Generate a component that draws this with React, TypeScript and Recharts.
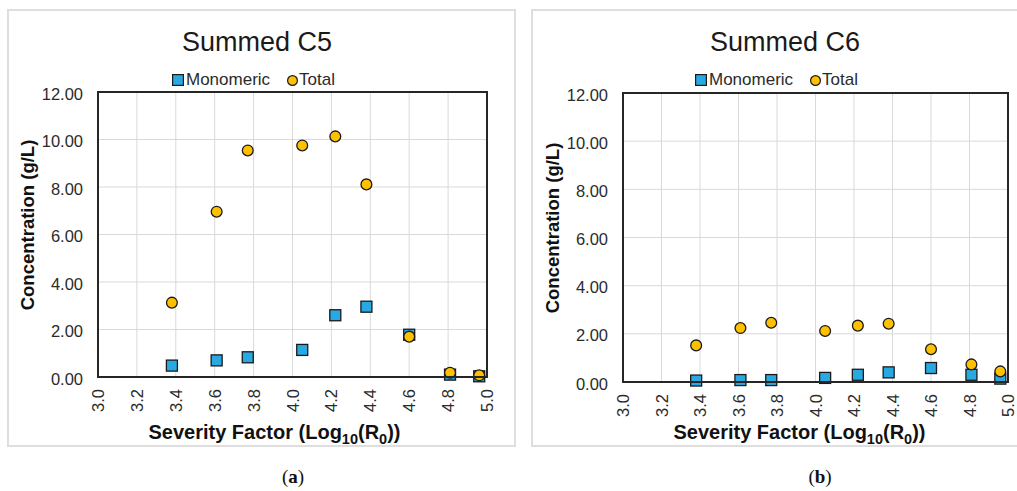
import React from "react";
import {
  ScatterChart,
  Scatter,
  XAxis,
  YAxis,
  CartesianGrid,
  Legend,
  Label,
} from "recharts";

// Severity factor of each pretreatment run
const severity = [3.38, 3.61, 3.77, 4.05, 4.22, 4.38, 4.6, 4.81, 4.96];

// Summed C5 sugars (g/L)
const c5Monomeric = [0.48, 0.7, 0.83, 1.14, 2.6, 2.96, 1.78, 0.1, 0.03];
const c5Total = [3.13, 6.96, 9.54, 9.75, 10.13, 8.11, 1.7, 0.18, 0.07];

// Summed C6 sugars (g/L)
const c6Monomeric = [0.06, 0.08, 0.08, 0.17, 0.3, 0.4, 0.58, 0.3, 0.14];
const c6Total = [1.52, 2.24, 2.46, 2.12, 2.34, 2.42, 1.36, 0.73, 0.44];

const xTicks = [3.0, 3.2, 3.4, 3.6, 3.8, 4.0, 4.2, 4.4, 4.6, 4.8, 5.0];
const yTicks = [0, 2, 4, 6, 8, 10, 12];
const seriesNames = ["Monomeric", "Total"];

const FONT = '"Liberation Sans", Arial, sans-serif';
const BLUE = "#29a9e1";
const GOLD = "#ffc000";
const EDGE = "#1a1a1a";

const CHART_H = 438;
const Y_AXIS_W = 60;
const X_AXIS_H = 50;

const toPoints = (ys: number[]) => severity.map((x, i) => ({ x, y: ys[i] }));

const SquareDot = (props: any) => (
  <rect
    x={props.cx - 5.5}
    y={props.cy - 5.5}
    width={11}
    height={11}
    fill={BLUE}
    stroke={EDGE}
    strokeWidth={1.3}
  />
);

const CircleDot = (props: any) => (
  <circle cx={props.cx} cy={props.cy} r={5.4} fill={GOLD} stroke={EDGE} strokeWidth={1.3} />
);

const XTick = ({ x, y, payload }: any) => (
  <text
    transform={`translate(${x},${y + 12}) rotate(-90)`}
    textAnchor="end"
    dominantBaseline="central"
    fontFamily={FONT}
    fontSize={16.5}
    fill="#2b2b2b"
  >
    {Number(payload.value).toFixed(1)}
  </text>
);

const YTick = ({ x, y, payload }: any) => (
  <text
    x={x}
    y={y + 1.5}
    textAnchor="end"
    dominantBaseline="central"
    fontFamily={FONT}
    fontSize={16.5}
    fill="#2b2b2b"
  >
    {Number(payload.value).toFixed(2)}
  </text>
);

const LegendContent = () => (
  <div
    style={{
      display: "flex",
      alignItems: "center",
      fontFamily: FONT,
      fontSize: 17,
      color: "#2b2b2b",
      whiteSpace: "nowrap",
      lineHeight: "20px",
    }}
  >
    <svg width={12} height={12} style={{ marginRight: 2 }}>
      <rect x={0.6} y={0.6} width={10.8} height={10.8} fill={BLUE} stroke={EDGE} strokeWidth={1.2} />
    </svg>
    <span>{seriesNames[0]}</span>
    <svg width={11} height={11} style={{ marginLeft: 17, marginRight: 1 }}>
      <circle cx={5.5} cy={5.5} r={4.9} fill={GOLD} stroke={EDGE} strokeWidth={1.2} />
    </svg>
    <span>{seriesNames[1]}</span>
  </div>
);

type PanelProps = {
  title: string;
  tag: string;
  monomeric: number[];
  total: number[];
  left: number;
  width: number;
  margin: { top: number; right: number; bottom: number; left: number };
  titleX: number;
  legendX: number;
  xTitleShift: number;
  xTitleDrop: number;
  tagX: number;
};

function Panel(p: PanelProps) {
  // plot-area box, from the margins and axis sizes handed to the chart
  const plotLeft = p.margin.left + Y_AXIS_W;
  const plotTop = p.margin.top;
  const plotW = p.width - plotLeft - p.margin.right;
  const plotH = CHART_H - plotTop - p.margin.bottom - X_AXIS_H;

  return (
    <>
      <div
        style={{
          position: "absolute",
          left: p.left,
          top: 9,
          width: p.width + 20,
          height: CHART_H,
          boxSizing: "border-box",
          border: "2px solid #dedede",
        }}
      />
      <div
        style={{
          position: "absolute",
          left: p.left + p.titleX - 150,
          top: 29,
          width: 300,
          textAlign: "center",
          fontFamily: FONT,
          fontSize: 27,
          lineHeight: "27px",
          color: "#1a1a1a",
        }}
      >
        {p.title}
      </div>
      <div style={{ position: "absolute", left: p.left, top: 9 }}>
        <ScatterChart width={p.width} height={CHART_H} margin={p.margin}>
          <CartesianGrid stroke="#d9d9d9" strokeWidth={1} />
          <XAxis
            type="number"
            dataKey="x"
            domain={[3, 5]}
            ticks={xTicks}
            interval={0}
            axisLine={false}
            tickLine={false}
            tickSize={0}
            tickMargin={0}
            tick={<XTick />}
            height={X_AXIS_H}
          >
            <Label
              content={({ viewBox }: any) => {
                const cx = viewBox.x + viewBox.width / 2 + p.xTitleShift;
                const by = viewBox.y + p.xTitleDrop;
                return (
                  <text
                    x={cx}
                    y={by}
                    textAnchor="middle"
                    fontFamily={FONT}
                    fontWeight="bold"
                    fontSize={20}
                    fill="#111"
                  >
                    Severity Factor (Log
                    <tspan fontSize={14.5} dy={5}>
                      10
                    </tspan>
                    <tspan dy={-5}>(R</tspan>
                    <tspan fontSize={14.5} dy={5}>
                      0
                    </tspan>
                    <tspan dy={-5}>))</tspan>
                  </text>
                );
              }}
            />
          </XAxis>
          <YAxis
            type="number"
            dataKey="y"
            domain={[0, 12]}
            ticks={yTicks}
            interval={0}
            axisLine={false}
            tickLine={false}
            tickSize={0}
            tickMargin={15}
            tick={<YTick />}
            width={Y_AXIS_W}
          >
            <Label
              content={({ viewBox }: any) => {
                const cx = viewBox.x + viewBox.width - 71;
                const cy = viewBox.y + viewBox.height / 2 - 9.5;
                return (
                  <text
                    transform={`translate(${cx},${cy}) rotate(-90)`}
                    textAnchor="middle"
                    dominantBaseline="central"
                    fontFamily={FONT}
                    fontWeight="bold"
                    fontSize={18.5}
                    fill="#111"
                  >
                    Concentration (g/L)
                  </text>
                );
              }}
            />
          </YAxis>
          <Legend
            layout="horizontal"
            align="center"
            verticalAlign="middle"
            content={<LegendContent />}
            wrapperStyle={{ top: 61, left: p.legendX, width: "auto" }}
          />
          <Scatter
            name={seriesNames[0]}
            data={toPoints(p.monomeric)}
            shape={SquareDot}
            isAnimationActive={false}
          />
          <Scatter
            name={seriesNames[1]}
            data={toPoints(p.total)}
            shape={CircleDot}
            isAnimationActive={false}
          />
        </ScatterChart>
      </div>
      {/* dark frame round the plot area */}
      <div
        style={{
          position: "absolute",
          left: p.left + plotLeft - 1,
          top: 9 + plotTop - 1,
          width: plotW + 2,
          height: plotH + 2,
          boxSizing: "border-box",
          border: "2px solid #262626",
          pointerEvents: "none",
        }}
      />
      <div
        style={{
          position: "absolute",
          left: p.tagX - 50,
          top: 466,
          width: 100,
          textAlign: "center",
          fontFamily: '"Liberation Serif", "DejaVu Serif", serif',
          fontSize: 19,
          lineHeight: "22px",
          color: "#111",
        }}
      >
        (<b>{p.tag}</b>)
      </div>
    </>
  );
}

export default function App() {
  return (
    <div
      style={{
        position: "absolute",
        left: 0,
        top: 0,
        width: 1017,
        height: 491,
        overflow: "hidden",
        background: "#fff",
      }}
    >
      <Panel
        title="Summed C5"
        tag="a"
        monomeric={c5Monomeric}
        total={c5Total}
        left={7}
        width={489}
        margin={{ top: 83, right: 9, bottom: 20, left: 31 }}
        titleX={250}
        legendX={165}
        xTitleShift={-18}
        xTitleDrop={62}
        tagX={293}
      />
      <Panel
        title="Summed C6"
        tag="b"
        monomeric={c6Monomeric}
        total={c6Total}
        left={531}
        width={486}
        margin={{ top: 84, right: 9, bottom: 15, left: 32 }}
        titleX={254}
        legendX={164}
        xTitleShift={-16}
        xTitleDrop={57}
        tagX={820}
      />
    </div>
  );
}
